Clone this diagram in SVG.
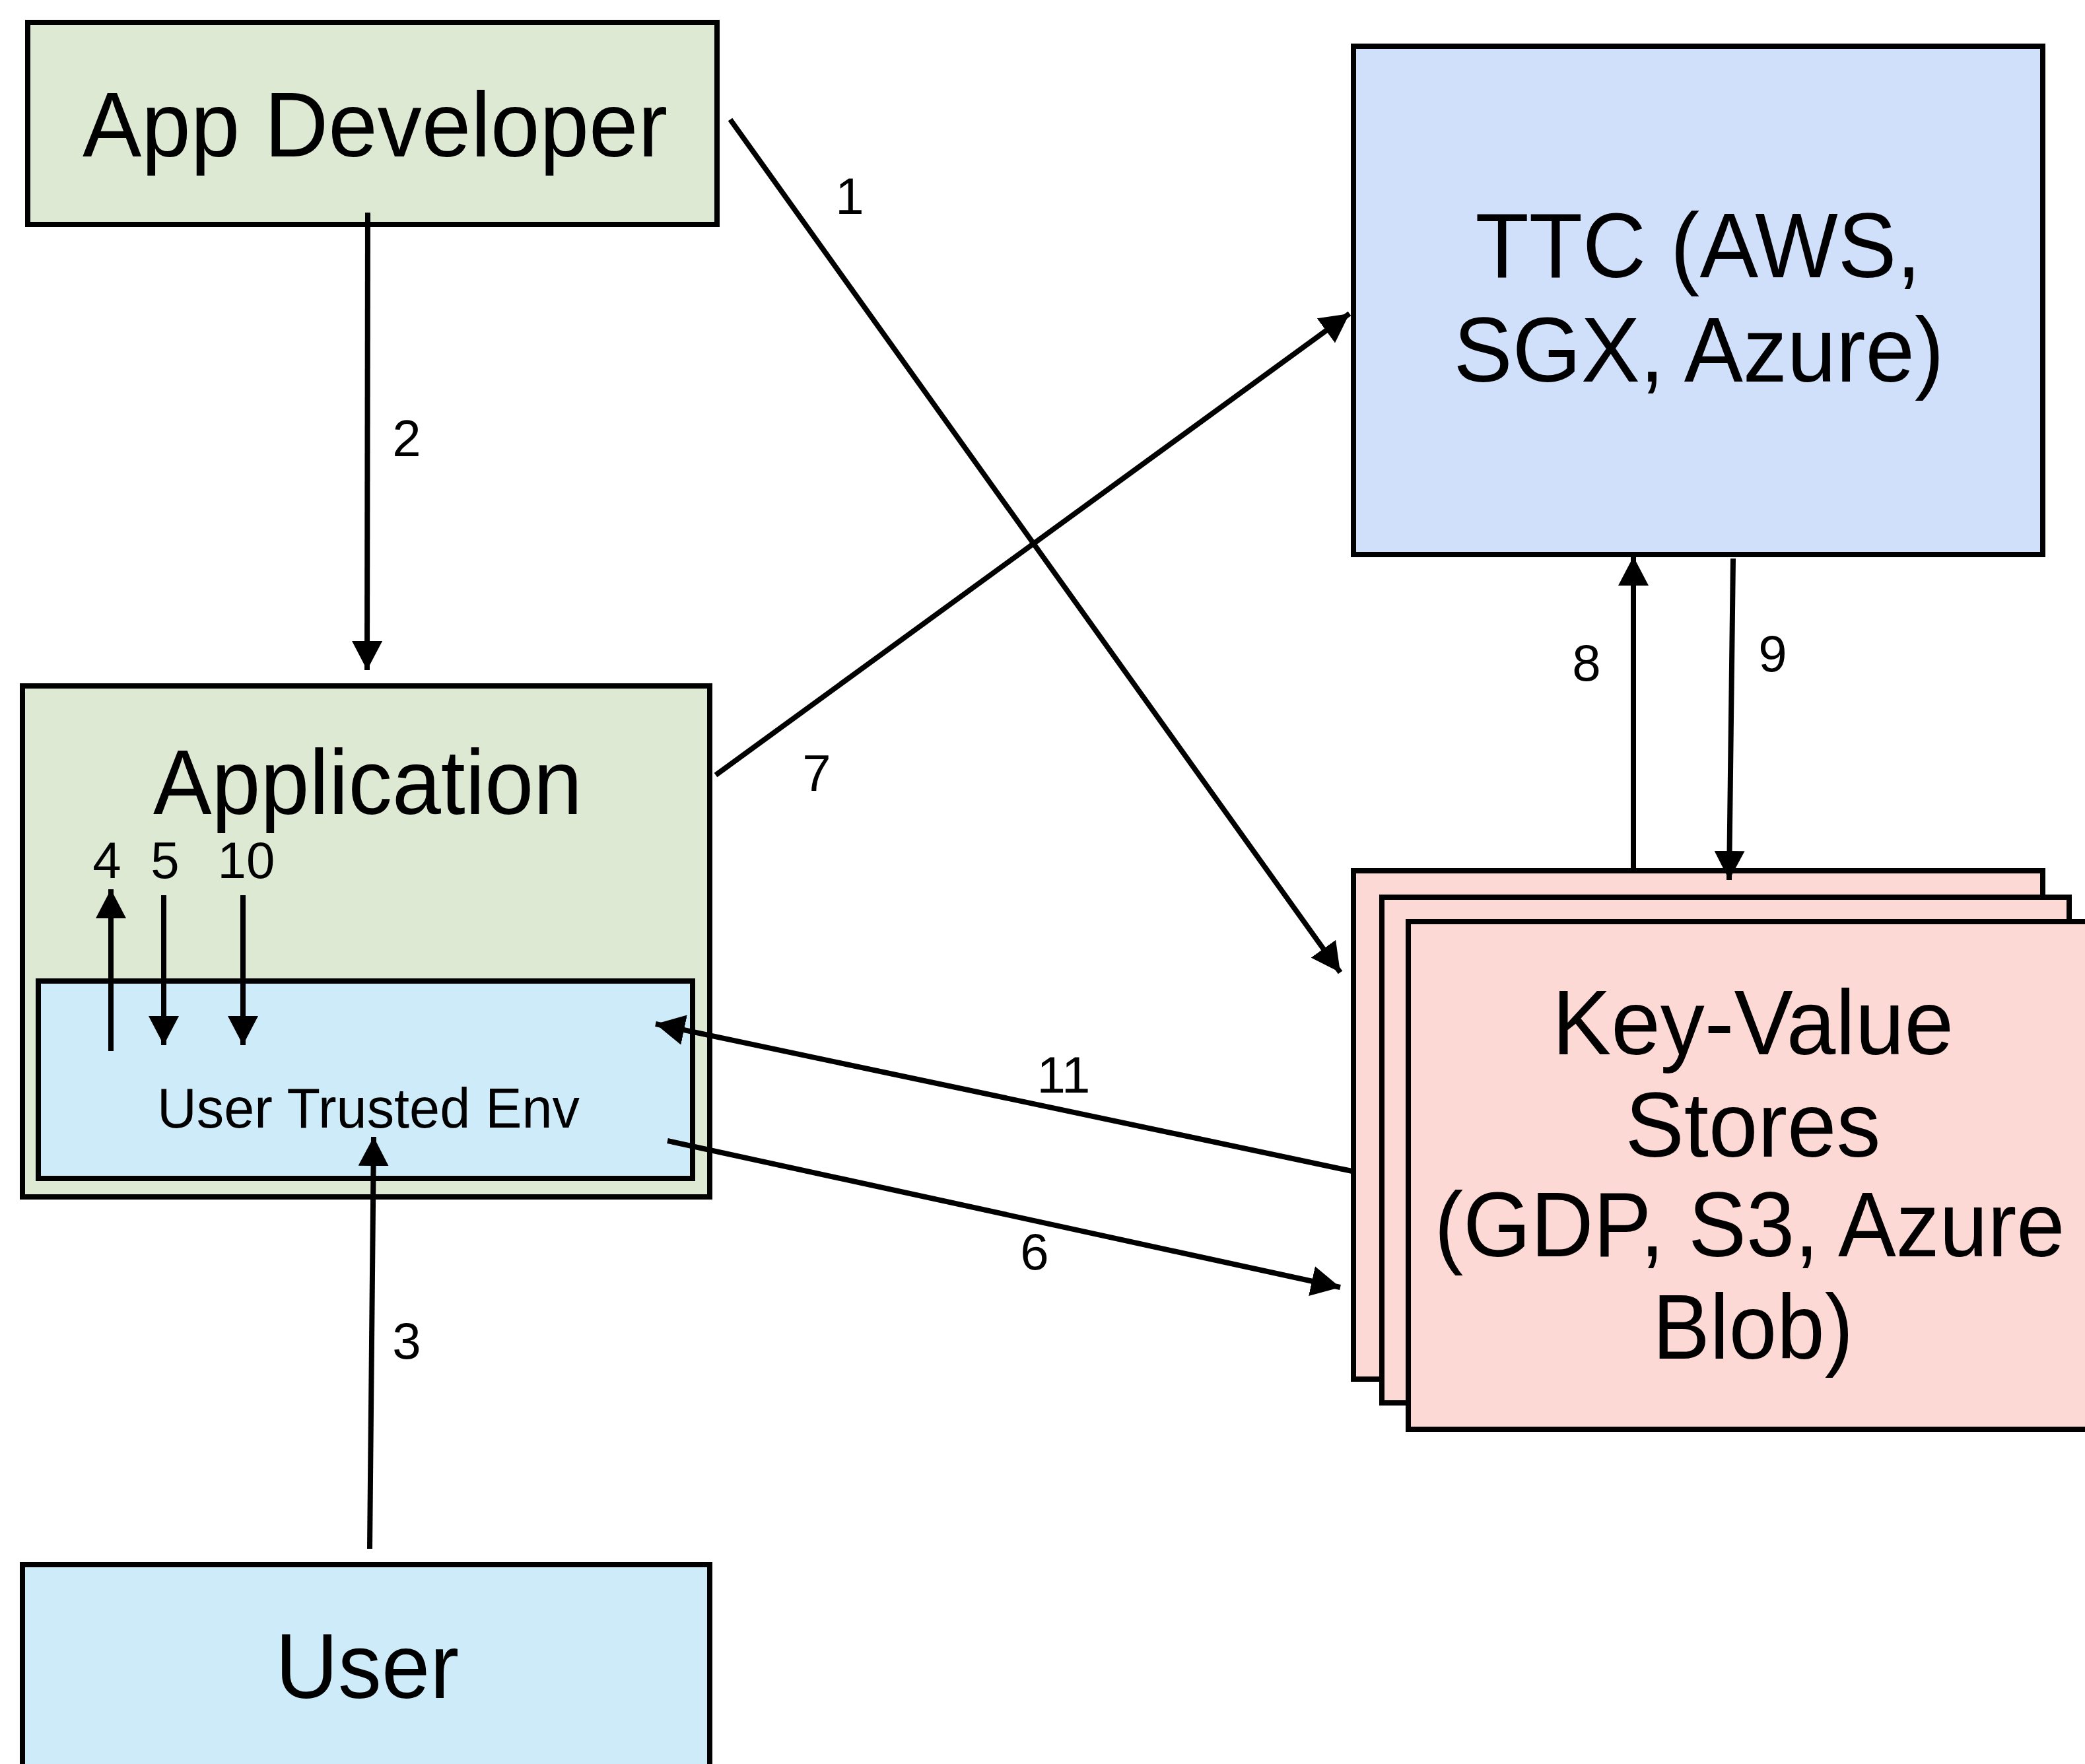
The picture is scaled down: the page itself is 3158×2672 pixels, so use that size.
<svg xmlns="http://www.w3.org/2000/svg" width="3158" height="2672" viewBox="0 0 3158 2672">
<style>
.box{stroke:#000;stroke-width:8}
.green{fill:#dde9d3}
.blue{fill:#cdebf9}
.ttc{fill:#d0e0fa}
.pink{fill:#fdd9d6}
.big{font-family:"Liberation Sans",Arial,sans-serif;font-size:140px;text-anchor:middle;fill:#000}
.mid{font-family:"Liberation Sans",Arial,sans-serif;font-size:86px;text-anchor:middle;fill:#000}
.num{font-family:"Liberation Sans",Arial,sans-serif;font-size:78px;text-anchor:middle;fill:#000}
.edge{stroke:#000;stroke-width:8;fill:none;marker-end:url(#arr)}
</style>
<defs>
<marker id="arr" markerUnits="userSpaceOnUse" markerWidth="44" markerHeight="46" refX="44" refY="23" orient="auto">
<path d="M0,0 L44,23 L0,46 z" fill="#000"/>
</marker>
</defs>
<rect width="3158" height="2672" fill="#fff"/>
<g id="app-developer">
<rect class="box green" x="42" y="34" width="1044" height="306"/>
<text class="big" x="568" y="237" textLength="886" lengthAdjust="spacingAndGlyphs">App Developer</text>
</g>
<g id="ttc">
<rect class="box ttc" x="2050" y="70" width="1044" height="770"/>
<text class="big" x="2572" y="420" textLength="675" lengthAdjust="spacingAndGlyphs">TTC (AWS,</text>
<text class="big" x="2573" y="578" textLength="743" lengthAdjust="spacingAndGlyphs">SGX, Azure)</text>
</g>
<g id="application">
<rect class="box green" x="34" y="1039" width="1041" height="774"/>
<text class="big" x="557" y="1233" textLength="650" lengthAdjust="spacingAndGlyphs">Application</text>
</g>
<g id="user-trusted-env">
<rect class="box blue" x="58" y="1486" width="991" height="299"/>
<text class="mid" x="558" y="1708" textLength="640" lengthAdjust="spacingAndGlyphs">User Trusted Env</text>
</g>
<g id="user">
<rect class="box blue" x="34" y="2370" width="1041" height="330"/>
<text class="big" x="556" y="2572" textLength="278" lengthAdjust="spacingAndGlyphs">User</text>
</g>
<g id="kv-stores">
<rect class="box pink" x="2050" y="1319" width="1044" height="770"/>
<rect class="box pink" x="2093" y="1359" width="1041" height="766"/>
<rect class="box pink" x="2133" y="1396" width="1060" height="769"/>
<text class="big" x="2655" y="1597" textLength="608" lengthAdjust="spacingAndGlyphs">Key-Value</text>
<text class="big" x="2655" y="1752" textLength="387" lengthAdjust="spacingAndGlyphs">Stores</text>
<text class="big" x="2650" y="1903" textLength="955" lengthAdjust="spacingAndGlyphs">(GDP, S3, Azure</text>
<text class="big" x="2655" y="2058" textLength="304" lengthAdjust="spacingAndGlyphs">Blob)</text>
</g>
<g id="connectors">
<line class="edge" x1="1106" y1="181" x2="2030" y2="1473"/>
<line class="edge" x1="557" y1="322" x2="556" y2="1015"/>
<line class="edge" x1="1084" y1="1174" x2="2044" y2="475"/>
<line class="edge" x1="2474" y1="1323" x2="2474" y2="843"/>
<line class="edge" x1="2625" y1="846" x2="2619" y2="1333"/>
<line class="edge" x1="2048" y1="1774" x2="993" y2="1551"/>
<line class="edge" x1="1011" y1="1728" x2="2030" y2="1950"/>
<line class="edge" x1="560" y1="2346" x2="566" y2="1722"/>
<line class="edge" x1="168" y1="1592" x2="168" y2="1347"/>
<line class="edge" x1="248" y1="1356" x2="248" y2="1583"/>
<line class="edge" x1="368" y1="1356" x2="368" y2="1583"/>
<text class="num" x="1287" y="324">1</text>
<text class="num" x="616" y="691">2</text>
<text class="num" x="616" y="2058">3</text>
<text class="num" x="162" y="1330">4</text>
<text class="num" x="250" y="1330">5</text>
<text class="num" x="373" y="1330">10</text>
<text class="num" x="1567" y="1923">6</text>
<text class="num" x="1237" y="1198">7</text>
<text class="num" x="2403" y="1031">8</text>
<text class="num" x="2685" y="1017">9</text>
<text class="num" x="1611" y="1655">11</text>
</g>
</svg>
